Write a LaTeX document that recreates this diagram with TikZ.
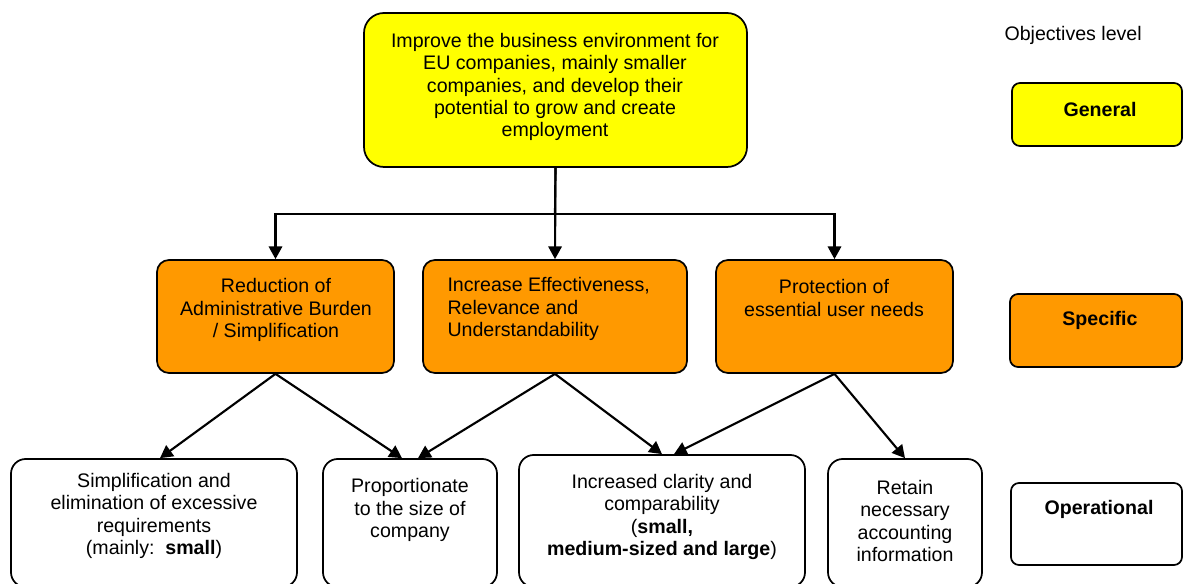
\documentclass[tikz,border=0pt]{standalone}
\usepackage{fontspec}
\setmainfont{Liberation Sans}
\usetikzlibrary{arrows.meta,fit}
\tikzset{every picture/.style={line width=0.75pt}}
\definecolor{goalyellow}{RGB}{255,255,0}
\definecolor{specorange}{RGB}{255,153,0}

\begin{document}
\begin{tikzpicture}[x=0.75pt,y=0.75pt,yscale=-1,xscale=1,
  box/.style={draw=black, line width=1.3pt, inner sep=0pt, rounded corners=9pt},
  goal/.style={box, fill=goalyellow},
  spec/.style={box, fill=specorange},
  oper/.style={box, fill=white, rounded corners=11pt},
  txt/.style={inner sep=0.75pt, align=center, font=\fontsize{14.7}{16.8}\selectfont},
  lbl/.style={txt, font=\fontsize{14.7}{16.8}\selectfont\bfseries},
  arr/.style={line width=1.6pt, -{Triangle[length=9.5pt,width=10pt]}}]
%set diagram left start at 0, and has height of 584
\clip (0,0) rectangle (1183,584);

%Shape: Rounded Rect [id:general]
\node[goal, rounded corners=15pt, fit={(364,13) (747,167)}] (improve) {};
%Shape: Rounded Rect [id:specific]
\node[spec, fit={(157,260) (394,373)}] (reduce) {};
\node[spec, fit={(423,260) (687,373)}] (increase) {};
\node[spec, fit={(716,260) (953,373)}] (protect) {};
%Shape: Rounded Rect [id:operational]
\node[oper, fit={(11,459) (297,587)}] (simplify) {};
\node[oper, fit={(323,459) (497,587)}] (proport) {};
\node[oper, fit={(519,455) (805,587)}] (clarity) {};
\node[oper, fit={(828,459) (982,587)}] (retain) {};
%Shape: Rounded Rect [id:legend]
\node[goal, rounded corners=6pt, fit={(1012,83) (1182,146)}] (lgeneral) {};
\node[spec, rounded corners=6pt, fit={(1010,294) (1182,367)}] (lspecific) {};
\node[oper, rounded corners=6pt, fit={(1011,483) (1182,565)}] (loper) {};

%Straight Lines
\coordinate (split) at (555,214);
\draw[line width=1.6pt] (improve.south) -- (split);
\draw[arr] (split) -| (reduce.north);
\draw[arr] (split) -| (protect.north);
\draw[arr] (improve.south) -- (increase.north);
\draw[arr] (reduce.south) -- ([xshift=4.5pt]simplify.north);
\draw[arr] (reduce.south) -- ([xshift=-6pt]proport.north);
\draw[arr] (increase.south) -- ([xshift=6pt]proport.north);
\draw[arr] (increase.south) -- (clarity.north);
\draw[arr] (protect.south) -- ([xshift=9pt]clarity.north);
\draw[arr] (protect.south) -- (retain.north);

% Text Node
\node[txt] (timprove) at (555,87) {Improve the business environment for\\EU companies, mainly smaller\\companies, and develop their\\potential to grow and create\\employment};
% Text Node
\node[txt] (treduce) at (276,310) {Reduction of\\Administrative Burden\\/ Simplification};
% Text Node
\node[txt, align=left, anchor=west] (tincrease) at (446,309) {Increase Effectiveness,\\Relevance and\\Understandability};
% Text Node
\node[txt] (tprotect) at (834,298) {Protection of\\essential user needs};
% Text Node
\node[txt] (tsimplify) at (154,516) {Simplification and\\elimination of excessive\\requirements\\(mainly:\ \ \textbf{small})};
% Text Node
\node[txt] (tproport) at (410,510) {Proportionate\\to the size of\\company};
% Text Node
\node[txt] (tclarity) at (662,517) {Increased clarity and\\comparability\\(\textbf{small,}\\\textbf{medium-sized and large})};
% Text Node
\node[txt] (tretain) at (905,521) {Retain\\necessary\\accounting\\information};
% Text Node
\node[txt, anchor=west] (tlevel) at (1003,35) {Objectives level};
% Text Node
\node[lbl] (tgeneral) at (1100,109) {General};
\node[lbl] (tspecific) at (1100,320) {Specific};
\node[lbl] (toper) at (1099,509) {Operational};

\end{tikzpicture}
\end{document}
